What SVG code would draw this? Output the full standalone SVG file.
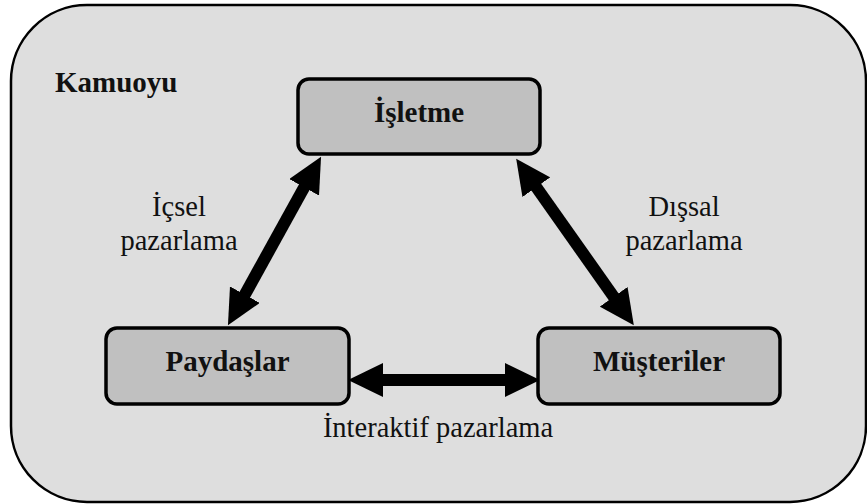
<svg xmlns="http://www.w3.org/2000/svg" width="867" height="504" viewBox="0 0 867 504">
  <style>
    .frame { fill: #dedede; stroke: #000; stroke-width: 2.5; }
    .node rect { fill: #c0c0c0; stroke: #000; stroke-width: 3.5; }
    text { font-family: 'Liberation Serif', 'DejaVu Serif', serif; fill: #111; }
    .bold { font-weight: bold; font-size: 29px; }
    .label { font-size: 28.5px; }
    .link { stroke: #000; stroke-width: 12; fill: none; marker-start: url(#head); marker-end: url(#head); }
  </style>
  <defs>
    <marker id="head" viewBox="0 0 35 34" markerWidth="35" markerHeight="34" markerUnits="userSpaceOnUse" refX="2" refY="17" orient="auto-start-reverse">
      <path d="M0,0 L35,17 L0,34 Z" fill="#000"/>
    </marker>
  </defs>

  <!-- Kamuoyu frame -->
  <g id="kamuoyu">
    <rect class="frame" x="11" y="5" width="855" height="497" rx="76" ry="76"/>
    <text class="bold" x="55" y="92" font-family="Liberation Serif, DejaVu Serif, serif">Kamuoyu</text>
  </g>

  <!-- connectors -->
  <g id="connectors">
    <line class="link" x1="305.1" y1="185.6" x2="243.9" y2="296.4"/>
    <line class="link" x1="535.2" y1="185.6" x2="614.8" y2="298.4"/>
    <line class="link" x1="381" y1="380" x2="507" y2="380"/>
  </g>

  <!-- nodes -->
  <g id="isletme" class="node">
    <rect x="298" y="79" width="242" height="75" rx="11"/>
    <text class="bold" x="419" y="122" text-anchor="middle" font-family="Liberation Serif, DejaVu Serif, serif">İşletme</text>
  </g>
  <g id="paydaslar" class="node">
    <rect x="106" y="328" width="243" height="76" rx="11"/>
    <text class="bold" x="227.5" y="371" text-anchor="middle" font-family="Liberation Serif, DejaVu Serif, serif">Paydaşlar</text>
  </g>
  <g id="musteriler" class="node">
    <rect x="538" y="328" width="242" height="76" rx="11"/>
    <text class="bold" x="659" y="371" text-anchor="middle" font-family="Liberation Serif, DejaVu Serif, serif">Müşteriler</text>
  </g>

  <!-- connector labels -->
  <g id="labels" font-family="Liberation Serif, DejaVu Serif, serif">
    <text class="label" x="179" y="216" text-anchor="middle">İçsel</text>
    <text class="label" x="179" y="250" text-anchor="middle">pazarlama</text>
    <text class="label" x="684" y="216" text-anchor="middle">Dışsal</text>
    <text class="label" x="684" y="250" text-anchor="middle">pazarlama</text>
    <text class="label" x="438" y="437" text-anchor="middle">İnteraktif pazarlama</text>
  </g>
</svg>
